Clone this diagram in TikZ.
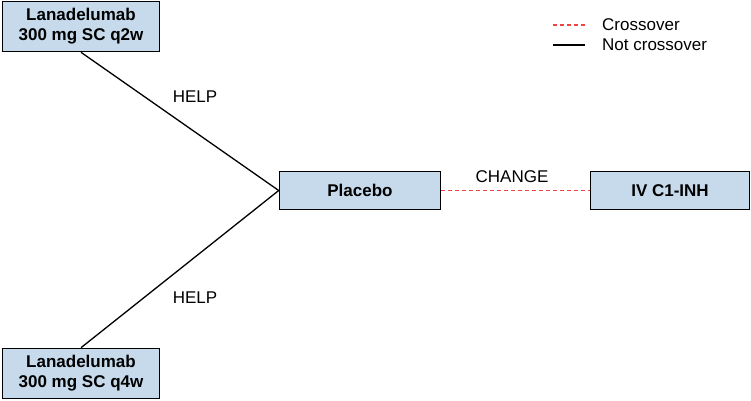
\documentclass[tikz,border=0pt]{standalone}
\usepackage{fontspec}
\setmainfont{Liberation Sans}
\usetikzlibrary{positioning}
\definecolor{armBlue}{HTML}{C6DAEC}
\definecolor{crossRed}{HTML}{EE4444}
\tikzset{
  armbox/.style={rectangle, draw=black, line width=1.6pt, fill=armBlue,
                 align=center, font=\bfseries\fontsize{17}{20}\selectfont,
                 inner sep=0pt},
  trialtext/.style={font=\fontsize{17}{20}\selectfont, inner sep=1pt},
  notcross/.style={black, line width=1.3pt},
  cross/.style={crossRed, line width=1.3pt, dash pattern=on 4pt off 3pt},
}
\begin{document}
\begin{tikzpicture}[x=1pt, y=-1pt]
  \useasboundingbox (0,0) rectangle (751,400);
  % treatment arms
  \node[armbox, minimum width=157pt, minimum height=50pt] (q2w) at (81,26.5)
       {Lanadelumab\\300 mg SC q2w};
  \node[armbox, minimum width=157pt, minimum height=50pt] (q4w) at (81,373.5)
       {Lanadelumab\\300 mg SC q4w};
  \node[armbox, minimum width=161pt, minimum height=38pt] (plac) at (360,190.5) {Placebo};
  \node[armbox, minimum width=159pt, minimum height=38pt] (ivc) at (670,190.5) {IV C1-INH};
  % comparisons
  \draw[notcross] (q2w.south) -- (plac.west);
  \draw[notcross] (q4w.north) -- (plac.west);
  \draw[cross] (plac.east) -- (ivc.west);
  \node[trialtext] (help1) at (195,97) {HELP};
  \node[trialtext] (help2) at (195,298) {HELP};
  \node[trialtext] (change) at (512,177) {CHANGE};
  % legend
  \coordinate (lgA) at (553,25);
  \coordinate (lgB) at (553,45);
  \node[trialtext, anchor=west] (lgcross) at (601,25) {Crossover};
  \node[trialtext, anchor=west] (lgnot) at (601,45) {Not crossover};
  \draw[cross] (lgA) -- ++(32,0);
  \draw[notcross] (lgB) -- ++(32,0);
\end{tikzpicture}
\end{document}
